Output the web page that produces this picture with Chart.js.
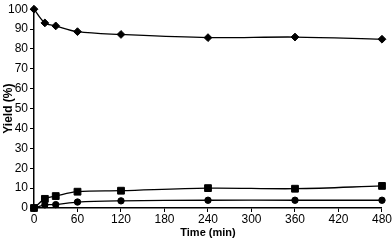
<!DOCTYPE html>
<html>
<head>
<meta charset="utf-8">
<script src="https://cdn.jsdelivr.net/npm/chart.js@4"></script>
<style>
html,body{margin:0;padding:0;background:#fff;}
#wrap{width:392px;height:240px;position:relative;}
</style>
</head>
<body>
<div id="wrap"><canvas id="c" width="392" height="240"></canvas></div>
<script>
const times = [0, 15, 30, 60, 120, 240, 360, 480];
const diamondSeries = [100, 93.1, 91.6, 88.7, 87.3, 85.7, 86.0, 84.9];
const squareSeries = [0, 4.6, 6.0, 8.2, 8.7, 10.0, 9.7, 11.1];
const circleSeries = [0, 1.6, 1.7, 3.0, 3.6, 3.9, 3.9, 3.9];
const xTicks = [0, 60, 120, 180, 240, 300, 360, 420, 480];
const yTicks = [0, 10, 20, 30, 40, 50, 60, 70, 80, 90, 100];

function pts(vals){ return times.map((t,i)=>({x:t,y:vals[i]})); }
function ds(vals, style, r){
  return {data: pts(vals), borderColor:'#000', backgroundColor:'#000', borderWidth:1.3,
    pointStyle: style, pointRadius: r, pointHoverRadius: r, pointBorderWidth:1,
    tension:0.35, fill:false, clip:false};
}
const fam = "'Liberation Sans', Arial, sans-serif";
new Chart(document.getElementById('c'), {
  type:'line',
  data:{datasets:[
    ds(diamondSeries,'rectRot',3.9),
    ds(squareSeries,'rect',4.8),
    ds(circleSeries,'circle',3.2)
  ]},
  options:{
    responsive:false, animation:false,
    layout:{padding:{left:0,right:10,top:5,bottom:0}},
    plugins:{legend:{display:false}, tooltip:{enabled:false}},
    scales:{
      x:{type:'linear', min:0, max:480,
        afterBuildTicks:(s)=>{s.ticks = xTicks.map(v=>({value:v}));},
        afterFit:(s)=>{s.height = 32;},
        grid:{drawOnChartArea:false, drawTicks:true, tickLength:4, color:'#000', lineWidth:1},
        border:{color:'#000', width:1.5},
        ticks:{color:'#000', font:{family:fam,size:12}, padding:0, maxRotation:0},
        title:{display:true, text:'Time (min)', color:'#000', font:{family:fam,size:11,weight:'bold'}, padding:{top:-3,bottom:0}}
      },
      y:{min:0, max:100,
        afterBuildTicks:(s)=>{s.ticks = yTicks.map(v=>({value:v}));},
        afterFit:(s)=>{s.width = 34;},
        grid:{drawOnChartArea:false, drawTicks:true, tickLength:4, color:'#000', lineWidth:1},
        border:{color:'#000', width:1.5},
        ticks:{color:'#000', font:{family:fam,size:12}, padding:2},
        title:{display:true, text:'Yield (%)', color:'#000', font:{family:fam,size:12,weight:'bold'}, padding:{top:1,bottom:-3}}
      }
    }
  }
});
</script>
</body>
</html>
